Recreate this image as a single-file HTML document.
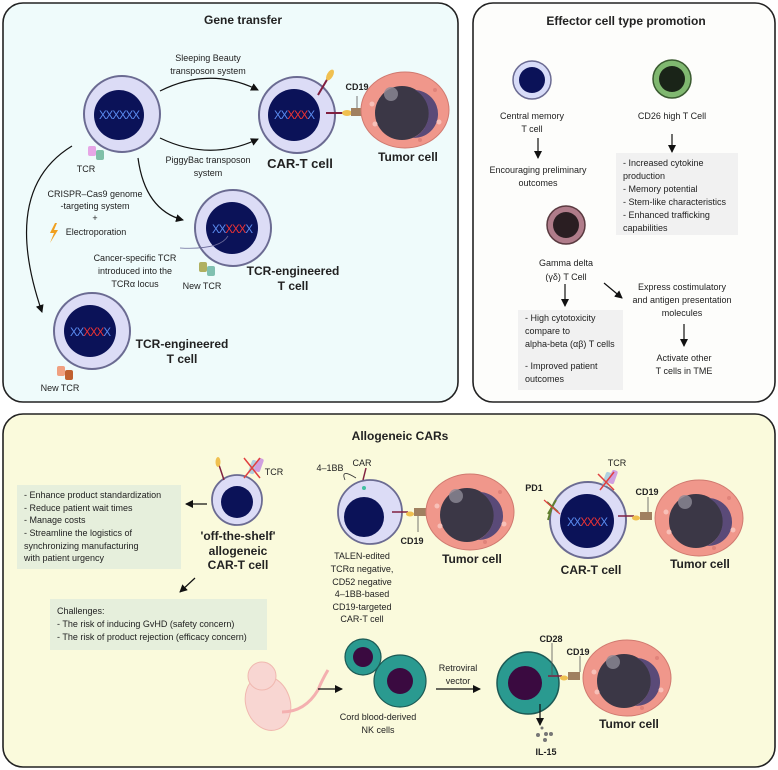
<!DOCTYPE html>
<html><head><meta charset="utf-8"><style>
html,body{margin:0;padding:0;background:#fff}
svg{display:block}
text{font-family:"Liberation Sans",sans-serif;fill:#222}
.s{font-size:9px}
.b{font-weight:bold}
</style></head><body>
<svg width="778" height="770" viewBox="0 0 778 770" xmlns="http://www.w3.org/2000/svg">
<defs>
<marker id="a" markerWidth="8" markerHeight="8" refX="7" refY="4" orient="auto" markerUnits="userSpaceOnUse"><path d="M0,0 L8,4 L0,8 Z" fill="#111"/></marker>
<g id="tumor">
<ellipse cx="0" cy="0" rx="44" ry="38" fill="#f0978b" stroke="#d07a70" stroke-width="1"/>
<circle cx="-3" cy="3" r="27" fill="#3b3746"/>
<path d="M10,-20 A27,27 0 0 1 8,28 A22,22 0 0 0 10,-20Z" fill="#5a4a78"/>
<circle cx="-14" cy="-16" r="7" fill="#8d8a96" opacity="0.8"/>
<circle cx="-33" cy="-6" r="2.5" fill="#f8c0b8"/><circle cx="-30" cy="14" r="2.5" fill="#f8c0b8"/><circle cx="30" cy="-20" r="2" fill="#e0837a"/><circle cx="34" cy="12" r="2.5" fill="#f8c0b8"/><circle cx="15" cy="30" r="2" fill="#e0837a"/>
</g>
<g id="dna">
<text x="0" y="4" text-anchor="middle" font-size="11.5" style="fill:#5b8cf0;letter-spacing:-1px">XXXXXX</text>
</g>
<g id="dnar">
<text x="0" y="4" text-anchor="middle" font-size="11.5" style="letter-spacing:-1px"><tspan style="fill:#5b8cf0">XX</tspan><tspan style="fill:#e33">XXX</tspan><tspan style="fill:#5b8cf0">X</tspan></text>
</g>
</defs>

<rect x="3" y="3" width="455" height="399" rx="20" fill="#effbfb" stroke="#222" stroke-width="1.6"/>
<rect x="473" y="3" width="302" height="399" rx="20" fill="#fdfdfb" stroke="#222" stroke-width="1.6"/>
<rect x="3" y="414" width="772" height="353" rx="20" fill="#fafadc" stroke="#222" stroke-width="1.6"/>

<text x="243" y="24" text-anchor="middle" font-size="12" class="b">Gene transfer</text>
<text x="208" y="61" text-anchor="middle" class="s">Sleeping Beauty</text>
<text x="208" y="74" text-anchor="middle" class="s">transposon system</text>
<path d="M160,91 Q210,66 258,90" fill="none" stroke="#111" stroke-width="1.2" marker-end="url(#a)"/>
<path d="M160,138 Q210,162 258,139" fill="none" stroke="#111" stroke-width="1.2" marker-end="url(#a)"/>
<text x="208" y="163" text-anchor="middle" class="s">PiggyBac transposon</text>
<text x="208" y="176" text-anchor="middle" class="s">system</text>

<circle cx="122" cy="114" r="38" fill="#dcdcf6" stroke="#6b6b92" stroke-width="2"/>
<circle cx="119" cy="115" r="25" fill="#0b1258"/>
<use href="#dna" x="119" y="115"/>
<rect x="88" y="146" width="8" height="10" rx="2" fill="#e6a6e6"/><rect x="96" y="150" width="8" height="10" rx="2" fill="#7fc0a8"/>
<text x="86" y="172" text-anchor="middle" class="s">TCR</text>

<circle cx="297" cy="115" r="38" fill="#dcdcf6" stroke="#6b6b92" stroke-width="2"/>
<circle cx="294" cy="115" r="26" fill="#0b1258"/>
<use href="#dnar" x="294" y="115"/>
<line x1="318" y1="95" x2="328" y2="78" stroke="#802040" stroke-width="2"/>
<ellipse cx="330" cy="75" rx="3" ry="6" fill="#f0c050" transform="rotate(30 330 75)"/>
<line x1="326" y1="113" x2="343" y2="113" stroke="#802040" stroke-width="2"/>
<ellipse cx="347" cy="113" rx="5" ry="3" fill="#f0c050"/>
<rect x="351" y="108" width="12" height="8" fill="#a08060"/>
<line x1="357" y1="96" x2="357" y2="108" stroke="#555" stroke-width="0.8"/>
<text x="357" y="90" text-anchor="middle" font-size="9" class="b">CD19</text>
<use href="#tumor" x="405" y="110"/>
<text x="300" y="168" text-anchor="middle" font-size="13" class="b">CAR-T cell</text>
<text x="408" y="161" text-anchor="middle" font-size="12" class="b">Tumor cell</text>

<text x="95" y="197" text-anchor="middle" class="s">CRISPR–Cas9 genome</text>
<text x="95" y="209" text-anchor="middle" class="s">-targeting system</text>
<text x="95" y="221" text-anchor="middle" class="s">+</text>
<path d="M55,223 L50,233 L54,233 L50,243 L58,230 L54,230 L57,223Z" fill="#f0a020"/>
<text x="96" y="235" text-anchor="middle" class="s">Electroporation</text>
<path d="M138,158 Q145,210 183,220" fill="none" stroke="#111" stroke-width="1.2" marker-end="url(#a)"/>
<path d="M72,146 Q0,190 42,312" fill="none" stroke="#111" stroke-width="1.2" marker-end="url(#a)"/>

<circle cx="233" cy="228" r="38" fill="#dcdcf6" stroke="#6b6b92" stroke-width="2"/>
<circle cx="232" cy="228" r="26" fill="#0b1258"/>
<use href="#dnar" x="232" y="229"/>
<path d="M228,236 Q220,250 180,248" fill="none" stroke="#6a6a9a" stroke-width="0.8"/>
<rect x="199" y="262" width="8" height="10" rx="2" fill="#b0b060"/><rect x="207" y="266" width="8" height="10" rx="2" fill="#80c0b0"/>
<text x="135" y="261" text-anchor="middle" class="s">Cancer-specific TCR</text>
<text x="135" y="274" text-anchor="middle" class="s">introduced into the</text>
<text x="135" y="287" text-anchor="middle" class="s">TCRα locus</text>
<text x="202" y="289" text-anchor="middle" class="s">New TCR</text>
<text x="293" y="275" text-anchor="middle" font-size="12" class="b">TCR-engineered</text>
<text x="293" y="290" text-anchor="middle" font-size="12" class="b">T cell</text>

<circle cx="92" cy="331" r="38" fill="#dcdcf6" stroke="#6b6b92" stroke-width="2"/>
<circle cx="90" cy="331" r="26" fill="#0b1258"/>
<use href="#dnar" x="90" y="332"/>
<rect x="57" y="366" width="8" height="10" rx="2" fill="#f0a080"/><rect x="65" y="370" width="8" height="10" rx="2" fill="#c06030"/>
<text x="60" y="391" text-anchor="middle" class="s">New TCR</text>
<text x="182" y="348" text-anchor="middle" font-size="12" class="b">TCR-engineered</text>
<text x="182" y="363" text-anchor="middle" font-size="12" class="b">T cell</text>

<text x="626" y="25" text-anchor="middle" font-size="12" class="b">Effector cell type promotion</text>
<circle cx="532" cy="80" r="19" fill="#d8dcf8" stroke="#6b6b92" stroke-width="1.5"/><circle cx="532" cy="80" r="13" fill="#0b1258"/>
<text x="532" y="119" text-anchor="middle" class="s">Central memory</text>
<text x="532" y="132" text-anchor="middle" class="s">T cell</text>
<line x1="538" y1="138" x2="538" y2="158" stroke="#111" stroke-width="1.2" marker-end="url(#a)"/>
<text x="538" y="173" text-anchor="middle" class="s">Encouraging preliminary</text>
<text x="538" y="186" text-anchor="middle" class="s">outcomes</text>
<circle cx="672" cy="79" r="19" fill="#80b870" stroke="#3a5a30" stroke-width="1.5"/><circle cx="672" cy="79" r="13" fill="#1a2418"/>
<text x="672" y="119" text-anchor="middle" class="s">CD26 high T Cell</text>
<line x1="672" y1="134" x2="672" y2="152" stroke="#111" stroke-width="1.2" marker-end="url(#a)"/>
<rect x="616" y="153" width="122" height="82" fill="#f1f1f1"/>
<text x="623" y="166" class="s">- Increased cytokine</text><text x="623" y="179" class="s">production</text><text x="623" y="192" class="s">- Memory potential</text><text x="623" y="205" class="s">- Stem-like characteristics</text><text x="623" y="218" class="s">- Enhanced trafficking</text><text x="623" y="231" class="s">capabilities</text>
<circle cx="566" cy="225" r="19" fill="#b07c8a" stroke="#5a3a40" stroke-width="1.5"/><circle cx="566" cy="225" r="13" fill="#2a1e22"/>
<text x="566" y="266" text-anchor="middle" class="s">Gamma delta</text>
<text x="566" y="280" text-anchor="middle" class="s">(γδ) T Cell</text>
<line x1="565" y1="284" x2="565" y2="306" stroke="#111" stroke-width="1.2" marker-end="url(#a)"/>
<rect x="518" y="310" width="105" height="80" fill="#f1f1f1"/>
<text x="525" y="321" class="s">- High cytotoxicity</text><text x="525" y="334" class="s">compare to</text><text x="525" y="347" class="s">alpha-beta (αβ) T cells</text>
<text x="525" y="369" class="s">- Improved patient</text><text x="525" y="382" class="s">outcomes</text>
<line x1="604" y1="283" x2="622" y2="298" stroke="#111" stroke-width="1.2" marker-end="url(#a)"/>
<text x="682" y="290" text-anchor="middle" class="s">Express costimulatory</text>
<text x="682" y="303" text-anchor="middle" class="s">and antigen presentation</text>
<text x="682" y="316" text-anchor="middle" class="s">molecules</text>
<line x1="684" y1="324" x2="684" y2="346" stroke="#111" stroke-width="1.2" marker-end="url(#a)"/>
<text x="684" y="361" text-anchor="middle" class="s">Activate other</text>
<text x="684" y="374" text-anchor="middle" class="s">T cells in TME</text>

<text x="400" y="440" text-anchor="middle" font-size="12" class="b">Allogeneic CARs</text>
<circle cx="237" cy="500" r="25" fill="#dcdcf6" stroke="#6b6b92" stroke-width="1.8"/>
<circle cx="237" cy="502" r="16" fill="#0b1258"/>
<line x1="224" y1="480" x2="219" y2="465" stroke="#802040" stroke-width="1.5"/><ellipse cx="218" cy="462" rx="2.5" ry="5" fill="#f0c050"/>
<rect x="250" y="460" width="6" height="14" rx="2" fill="#b0d0e0" transform="rotate(20 253 467)"/><rect x="256" y="458" width="6" height="14" rx="2" fill="#d0a0e0" transform="rotate(20 259 465)"/>
<path d="M244,458 L260,478 M260,458 L244,478" stroke="#e04040" stroke-width="1.5"/>
<text x="274" y="475" text-anchor="middle" class="s">TCR</text>
<line x1="207" y1="504" x2="186" y2="504" stroke="#111" stroke-width="1.2" marker-end="url(#a)"/>
<rect x="17" y="485" width="164" height="84" fill="#e6efdc"/>
<text x="24" y="498" class="s">- Enhance product standardization</text>
<text x="24" y="511" class="s">- Reduce patient wait times</text>
<text x="24" y="523" class="s">- Manage costs</text>
<text x="24" y="536" class="s">- Streamline the logistics of</text>
<text x="24" y="549" class="s">synchronizing manufacturing</text>
<text x="24" y="561" class="s">with patient urgency</text>
<text x="238" y="540" text-anchor="middle" font-size="12" class="b">'off-the-shelf'</text>
<text x="238" y="555" text-anchor="middle" font-size="12" class="b">allogeneic</text>
<text x="238" y="569" text-anchor="middle" font-size="12" class="b">CAR-T cell</text>
<line x1="195" y1="578" x2="180" y2="592" stroke="#111" stroke-width="1.2" marker-end="url(#a)"/>
<rect x="50" y="599" width="217" height="51" fill="#e6efdc"/>
<text x="57" y="614" class="s">Challenges:</text>
<text x="57" y="627" class="s">- The risk of inducing GvHD (safety concern)</text>
<text x="57" y="640" class="s">- The risk of product rejection (efficacy concern)</text>

<circle cx="370" cy="512" r="32" fill="#dcdcf6" stroke="#6b6b92" stroke-width="1.8"/>
<circle cx="364" cy="517" r="20" fill="#0b1258"/>
<line x1="363" y1="480" x2="366" y2="468" stroke="#802040" stroke-width="1.5"/><circle cx="364" cy="488" r="2" fill="#40c0a0"/>
<path d="M356,478 Q340,468 345,480" fill="none" stroke="#333" stroke-width="0.8"/>
<text x="330" y="471" text-anchor="middle" class="s">4–1BB</text>
<text x="362" y="466" text-anchor="middle" class="s">CAR</text>
<line x1="392" y1="512" x2="408" y2="512" stroke="#802040" stroke-width="1.5"/><ellipse cx="410" cy="514" rx="4" ry="2.5" fill="#f0c050"/>
<rect x="414" y="508" width="12" height="8" fill="#a08060"/>
<line x1="418" y1="516" x2="418" y2="532" stroke="#555" stroke-width="0.8"/>
<text x="412" y="544" text-anchor="middle" font-size="9" class="b">CD19</text>
<use href="#tumor" x="470" y="512"/>
<text x="472" y="563" text-anchor="middle" font-size="12" class="b">Tumor cell</text>
<text x="362" y="559" text-anchor="middle" class="s">TALEN-edited</text>
<text x="362" y="572" text-anchor="middle" class="s">TCRα negative,</text>
<text x="362" y="585" text-anchor="middle" class="s">CD52 negative</text>
<text x="362" y="597" text-anchor="middle" class="s">4–1BB-based</text>
<text x="362" y="610" text-anchor="middle" class="s">CD19-targeted</text>
<text x="362" y="622" text-anchor="middle" class="s">CAR-T cell</text>

<circle cx="588" cy="520" r="38" fill="#dcdcf6" stroke="#6b6b92" stroke-width="2"/>
<circle cx="587" cy="521" r="27" fill="#0b1258"/>
<use href="#dnar" x="587" y="522"/>
<path d="M547,502 L558,512 M556,500 L548,514 M552,507 L548,520" stroke="#608030" stroke-width="2"/>
<path d="M544,500 L560,514" stroke="#e04040" stroke-width="1.2"/>
<text x="534" y="491" text-anchor="middle" font-size="9" class="b">PD1</text>
<rect x="604" y="472" width="6" height="14" rx="2" fill="#b0d0e0" transform="rotate(20 607 479)"/><rect x="610" y="470" width="6" height="14" rx="2" fill="#d0a0e0" transform="rotate(20 613 477)"/>
<path d="M598,474 L614,490 M614,472 L600,490" stroke="#e04040" stroke-width="1.5"/>
<text x="617" y="466" text-anchor="middle" class="s">TCR</text>
<line x1="618" y1="516" x2="634" y2="516" stroke="#802040" stroke-width="1.5"/><ellipse cx="636" cy="518" rx="4" ry="2.5" fill="#f0c050"/>
<rect x="640" y="512" width="12" height="8" fill="#a08060"/>
<line x1="648" y1="497" x2="648" y2="512" stroke="#555" stroke-width="0.8"/>
<text x="647" y="495" text-anchor="middle" font-size="9" class="b">CD19</text>
<use href="#tumor" x="699" y="518"/>
<text x="591" y="574" text-anchor="middle" font-size="12" class="b">CAR-T cell</text>
<text x="700" y="568" text-anchor="middle" font-size="12" class="b">Tumor cell</text>

<g fill="#f8d6d2" stroke="#f0b8b0" stroke-width="1">
<ellipse cx="268" cy="703" rx="22" ry="28" transform="rotate(-20 268 703)"/>
<circle cx="262" cy="676" r="14"/>
<path d="M282,712 Q305,712 318,690 Q322,680 328,670" fill="none" stroke="#f4b0b0" stroke-width="3"/>
</g>
<line x1="318" y1="689" x2="342" y2="689" stroke="#111" stroke-width="1.2" marker-end="url(#a)"/>
<circle cx="363" cy="657" r="18" fill="#2a9a90" stroke="#1c5a55" stroke-width="1.2"/><circle cx="363" cy="657" r="10" fill="#3a0a40"/>
<circle cx="400" cy="681" r="26" fill="#2a9a90" stroke="#1c5a55" stroke-width="1.2"/><circle cx="400" cy="681" r="13" fill="#3a0a40"/>
<text x="378" y="720" text-anchor="middle" class="s">Cord blood-derived</text>
<text x="378" y="733" text-anchor="middle" class="s">NK cells</text>
<text x="458" y="671" text-anchor="middle" class="s">Retroviral</text>
<text x="458" y="684" text-anchor="middle" class="s">vector</text>
<line x1="436" y1="689" x2="480" y2="689" stroke="#111" stroke-width="1.2" marker-end="url(#a)"/>
<circle cx="528" cy="683" r="31" fill="#2a9a90" stroke="#1c5a55" stroke-width="1.5"/><circle cx="525" cy="683" r="17" fill="#3a0a40"/>
<line x1="548" y1="676" x2="562" y2="676" stroke="#802040" stroke-width="1.5"/><ellipse cx="564" cy="678" rx="4" ry="2.5" fill="#f0c050"/>
<rect x="568" y="672" width="12" height="8" fill="#a08060"/>
<line x1="552" y1="643" x2="552" y2="676" stroke="#555" stroke-width="0.8"/>
<line x1="580" y1="656" x2="580" y2="672" stroke="#555" stroke-width="0.8"/>
<text x="551" y="642" text-anchor="middle" font-size="9" class="b">CD28</text>
<text x="578" y="655" text-anchor="middle" font-size="9" class="b">CD19</text>
<use href="#tumor" x="627" y="678"/>
<text x="629" y="728" text-anchor="middle" font-size="12" class="b">Tumor cell</text>
<line x1="540" y1="704" x2="540" y2="725" stroke="#111" stroke-width="1.2" marker-end="url(#a)"/>
<g fill="#777"><circle cx="542" cy="728" r="1.5"/><circle cx="538" cy="735" r="2"/><circle cx="546" cy="734" r="2"/><circle cx="551" cy="734" r="2"/><circle cx="545" cy="740" r="2"/></g>
<text x="546" y="755" text-anchor="middle" font-size="9" class="b">IL-15</text>
</svg>
</body></html>
